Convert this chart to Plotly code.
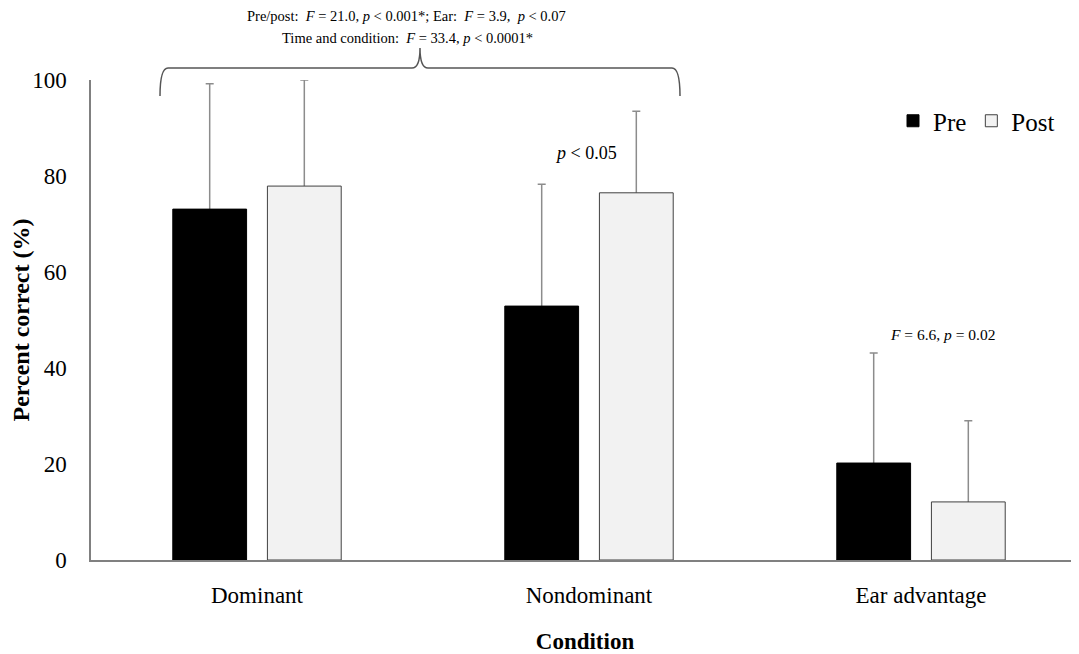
import plotly.graph_objects as go

categories = ["Dominant", "Nondominant", "Ear advantage"]
pre_values = [73.1, 52.9, 20.2]
pre_err = [26.1, 25.4, 22.9]
post_values = [77.9, 76.5, 12.1]
post_err = [22.1, 17.0, 16.9]
y_ticks = [0, 20, 40, 60, 80, 100]

SERIF = "Liberation Serif, Times New Roman, serif"
OFF = 8  # page body margin
W, H = 1079 - OFF, 654 - OFF
PL, PT, PB = 91, 80, 560  # plot area edges in page pixels
pw, ph = 1079 - PL, PB - PT
L, T = PL - OFF, PT - OFF
B = H - T - ph

def px(x):
    return (x - PL) / pw

def py(y):
    return (PB - y) / ph

fig = go.Figure()

def err_trace(name, vals, err):
    return go.Bar(
        name=name, x=categories, y=vals, offsetgroup=name, showlegend=False,
        marker=dict(color="rgba(0,0,0,0)", line=dict(width=0)), hoverinfo="skip",
        error_y=dict(type="data", symmetric=False, array=err,
                     arrayminus=[v * 0.5 for v in vals], color="#8c8c8c",
                     thickness=1.5, width=4),
    )

fig.add_trace(err_trace("Pre", pre_values, pre_err))
fig.add_trace(err_trace("Post", post_values, post_err))
fig.add_trace(go.Bar(
    name="Pre", x=categories, y=pre_values, offsetgroup="Pre",
    marker=dict(color="black", line=dict(color="black", width=1)),
))
fig.add_trace(go.Bar(
    name="Post", x=categories, y=post_values, offsetgroup="Post",
    marker=dict(color="#f2f2f2", line=dict(color="#404040", width=1)),
))

# brace
x0, xm, x1 = px(160), px(420), px(680)
yt, ye, yp = py(68), py(96), py(48)
dx = 8 / pw
path = (f"M{x0},{ye} Q{x0},{yt} {x0+dx},{yt} L{xm-dx},{yt} "
        f"Q{xm},{yt} {xm},{yp} Q{xm},{yt} {xm+dx},{yt} "
        f"L{x1-dx},{yt} Q{x1},{yt} {x1},{ye}")
fig.add_shape(type="path", path=path, xref="paper", yref="paper",
              line=dict(color="#555555", width=1.5))

def note(x, y, text, size):
    fig.add_annotation(x=px(x), y=py(y), xref="paper", yref="paper",
                       xanchor="center", yanchor="middle", showarrow=False,
                       text=text, font=dict(family=SERIF, size=size, color="black"))

note(406, 16, "Pre/post:  <i>F</i> = 21.0, <i>p</i> < 0.001*; Ear:  <i>F</i> = 3.9,  <i>p</i> < 0.07", 14.5)
note(407, 38, "Time and condition:  <i>F</i> = 33.4, <i>p</i> < 0.0001*", 14.5)
note(586, 153, "<i>p</i> < 0.05", 18)
note(942, 334, "<i>F</i> = 6.6, <i>p</i> = 0.02", 15.5)

fig.update_layout(
    width=W, height=H,
    margin=dict(l=L, r=0, t=T, b=B, pad=0, autoexpand=False),
    paper_bgcolor="white", plot_bgcolor="white",
    barmode="group", bargap=0.43, bargroupgap=0.22,
    font=dict(family=SERIF, size=23, color="black"),
    showlegend=True,
    legend=dict(orientation="h", x=px(893), y=py(121), xanchor="left",
                yanchor="middle", font=dict(family=SERIF, size=25),
                bgcolor="rgba(0,0,0,0)", itemwidth=30, traceorder="normal"),
    xaxis=dict(range=[-0.5, -0.5 + pw / 332], showline=True, linecolor="#808080",
               linewidth=1.5, ticks="", showgrid=False, zeroline=False,
               automargin=False,
               ticklabelstandoff=14, tickfont=dict(family=SERIF, size=23),
               title=dict(text="<b>Condition</b>", standoff=28,
                          font=dict(family=SERIF, size=23))),
    yaxis=dict(range=[0, 100], tickvals=y_ticks, showline=True, linecolor="#808080",
               linewidth=1.5, ticks="", showgrid=False, zeroline=False,
               automargin=False,
               ticklabelstandoff=18, tickfont=dict(family=SERIF, size=23),
               title=dict(text="<b>Percent correct (%)</b>", standoff=14,
                          font=dict(family=SERIF, size=24))),
)

fig.write_html("out.html")
